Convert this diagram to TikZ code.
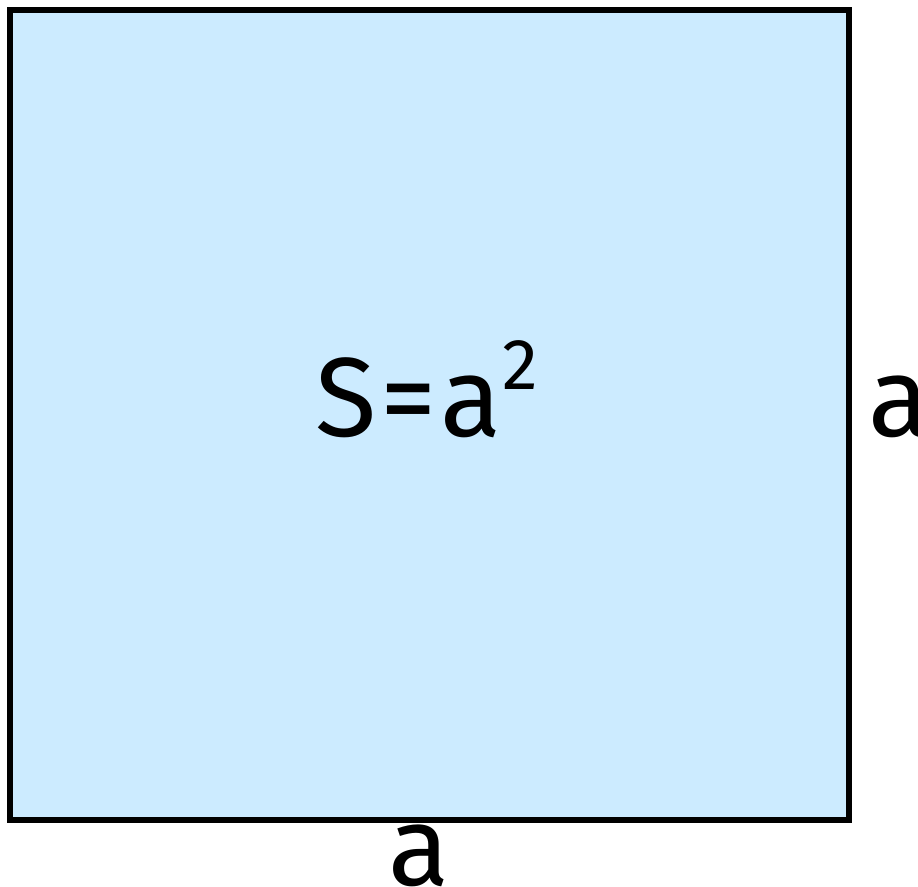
\documentclass[tikz,border=0pt]{standalone}
\usepackage{fontspec}
\setmainfont{Fira Sans}
\usetikzlibrary{positioning}
\definecolor{sqfill}{HTML}{CCEBFF}
\begin{document}
\begin{tikzpicture}[
    sqbox/.style={draw, line width=3.1pt, fill=sqfill, minimum width=16.78cm, minimum height=16.2cm, inner sep=0pt},
    lbl/.style={font=\fontsize{64}{72}\selectfont, inner sep=0pt, anchor=base west}
]
\useasboundingbox (0,0) rectangle (18.36,17.72);
\node[sqbox] (sq) at (8.59,9.42) {};
\node[lbl] (area) at (6.3,8.98) {S\kern0.08cm=\kern0.08cm a\raisebox{0.95cm}{\fontsize{41}{48}\selectfont 2}};
\node[lbl] (side) at (17.36,8.98) {a};
\node[lbl] (base) at (7.76,0.02) {a};
\end{tikzpicture}
\end{document}
